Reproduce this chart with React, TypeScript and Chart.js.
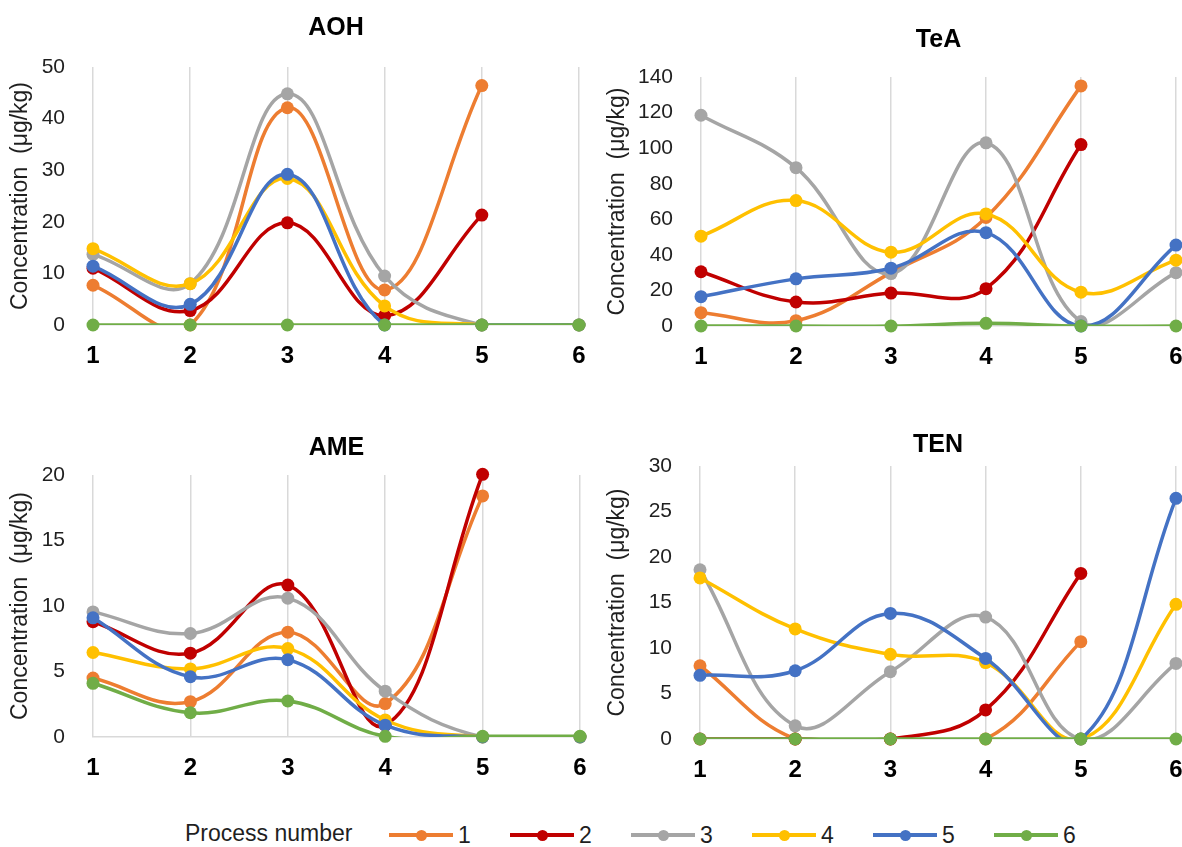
import { useEffect, useRef } from "react";
import { Chart, registerables } from "chart.js";

Chart.register(...registerables);

const FONT = '"Liberation Sans", Arial, Helvetica, sans-serif';

// x categories (step of the process) and series names (process number)
const xLabels = ["1", "2", "3", "4", "5", "6"];
const processes = ["1", "2", "3", "4", "5", "6"];
const colors = ["#ED7D31", "#C00000", "#A5A5A5", "#FFC000", "#4472C4", "#70AD47"];

// AOH (µg/kg), one row per process number
const aohValues: (number | null)[][] = [
  [7.7, 0, 42.1, 6.8, 46.4, null],
  [11.0, 2.8, 19.8, 1.8, 21.3, null],
  [13.7, 8.0, 44.8, 9.5, 0, 0],
  [14.8, 8.0, 28.4, 3.7, 0, 0],
  [11.4, 4.0, 29.2, 0, 0, 0],
  [0, 0, 0, 0, 0, 0],
];

// TeA (µg/kg)
const teaValues: (number | null)[][] = [
  [7.5, 3, 30, 61, 135, null],
  [30.5, 13.5, 18.5, 21, 102, null],
  [118.5, 89, 29.5, 103, 2.5, 30],
  [50.5, 70.5, 41.5, 63, 19, 37],
  [16.5, 26.5, 32.5, 52.5, 0, 45.5],
  [0, 0, 0, 1.5, 0, 0],
];

// AME (µg/kg)
const ameValues: (number | null)[][] = [
  [4.5, 2.7, 8.0, 2.55, 18.4, null],
  [8.8, 6.4, 11.6, 0.9, 20.05, null],
  [9.55, 7.9, 10.6, 3.5, 0, 0],
  [6.45, 5.2, 6.75, 1.3, 0, 0],
  [9.1, 4.6, 5.9, 0.9, 0, 0],
  [4.1, 1.85, 2.75, 0.05, 0.05, 0.05],
];

// TEN (µg/kg)
const tenValues: (number | null)[][] = [
  [8.05, 0, 0, 0, 10.7, null],
  [0, 0, 0, 3.2, 18.2, null],
  [18.6, 1.45, 7.4, 13.4, 0, 8.3],
  [17.7, 12.1, 9.3, 8.4, 0, 14.8],
  [7.0, 7.5, 13.8, 8.85, 0, 26.45],
  [0, 0, 0, 0, 0, 0],
];

const yAxisTitle = "Concentration  (μg/kg)";

interface PanelCfg {
  title: string;
  values: (number | null)[][];
  max: number;
  step: number;
  left: number;
  top: number;
  w: number;
  h: number;
  yw: number;
  tTop: number;
  tBottom: number;
  yTitlePad: number;
}

const panels: PanelCfg[] = [
  { title: "AOH", values: aohValues, max: 50, step: 10, left: 0, top: 0, w: 604, h: 375, yw: 93, tTop: 13, tBottom: 24, yTitlePad: 7 },
  { title: "TeA", values: teaValues, max: 140, step: 20, left: 596, top: 0, w: 605, h: 376, yw: 105, tTop: 25, tBottom: 22, yTitlePad: 8 },
  { title: "AME", values: ameValues, max: 20, step: 5, left: 0, top: 420, w: 605, h: 367, yw: 93, tTop: 13, tBottom: 12, yTitlePad: 7 },
  { title: "TEN", values: tenValues, max: 30, step: 5, left: 596, top: 420, w: 605, h: 369, yw: 104, tTop: 10, tBottom: 6, yTitlePad: 8 },
];

function Panel({ cfg }: { cfg: PanelCfg }) {
  const ref = useRef<HTMLCanvasElement>(null);
  useEffect(() => {
    if (!ref.current) return;
    const datasets: any[] = [];
    cfg.values.forEach((vals, k) => {
      datasets.push({
        label: processes[k],
        data: vals,
        borderColor: colors[k],
        backgroundColor: colors[k],
        borderWidth: 3.5,
        tension: 0.4,
        pointRadius: 0,
        pointHoverRadius: 0,
        spanGaps: false,
        order: 20 - 2 * k,
      });
      datasets.push({
        label: processes[k] + " markers",
        data: vals,
        showLine: false,
        borderColor: colors[k],
        backgroundColor: colors[k],
        pointBackgroundColor: colors[k],
        pointBorderWidth: 0,
        pointRadius: 6.5,
        pointHoverRadius: 6.5,
        clip: false,
        order: 19 - 2 * k,
      });
    });
    const chart = new Chart(ref.current, {
      type: "line",
      data: { labels: xLabels, datasets },
      options: {
        animation: false,
        responsive: false,
        devicePixelRatio: 1,
        events: [],
        layout: { padding: { left: 0, right: 25, top: 0, bottom: 0 } },
        elements: { line: { capBezierPoints: false } },
        plugins: {
          legend: { display: false },
          tooltip: { enabled: false },
          title: {
            display: true,
            text: cfg.title,
            fullSize: false,
            color: "#000",
            font: { family: FONT, size: 25, weight: "bold" },
            padding: { top: cfg.tTop, bottom: cfg.tBottom },
          },
        },
        scales: {
          x: {
            type: "category",
            offset: false,
            grid: { color: "#d9d9d9", lineWidth: 1.5, drawTicks: false },
            border: { display: true, color: "#d9d9d9", width: 1.5 },
            ticks: {
              color: "#000",
              font: { family: FONT, size: 24, weight: "bold" },
              padding: 17,
              maxRotation: 0,
              autoSkip: false,
            },
            afterFit: (s: any) => {
              s.height = 50;
            },
          },
          y: {
            min: 0,
            max: cfg.max,
            grid: { display: false },
            border: { display: false },
            ticks: {
              stepSize: cfg.step,
              color: "#1f1f1f",
              font: { family: FONT, size: 21 },
              padding: 20,
            },
            title: {
              display: true,
              text: yAxisTitle,
              color: "#1f1f1f",
              font: { family: FONT, size: 23 },
              padding: { top: cfg.yTitlePad, bottom: 0 },
            },
            afterFit: (s: any) => {
              s.width = cfg.yw;
            },
          },
        },
      } as any,
    });
    return () => chart.destroy();
  }, [cfg]);
  return (
    <canvas
      ref={ref}
      width={cfg.w}
      height={cfg.h}
      style={{ position: "absolute", left: cfg.left, top: cfg.top, width: cfg.w, height: cfg.h }}
    />
  );
}

export default function App() {
  const legendY = 835;
  return (
    <div
      style={{
        position: "fixed",
        left: 0,
        top: 0,
        width: 1182,
        height: 847,
        overflow: "hidden",
        background: "#fff",
      }}
    >
      {panels.map((p) => (
        <Panel key={p.title} cfg={p} />
      ))}
      <div
        style={{
          position: "absolute",
          left: 185,
          top: legendY - 15,
          height: 30,
          lineHeight: "30px",
          font: `23px ${FONT}`,
          color: "#1f1f1f",
          whiteSpace: "nowrap",
        }}
      >
        Process number
      </div>
      {processes.map((p, i) => (
        <div
          key={p}
          style={{
            position: "absolute",
            left: 389 + 121 * i,
            top: legendY - 15,
            height: 30,
            display: "flex",
            alignItems: "center",
          }}
        >
          <div style={{ position: "relative", width: 64, height: 3.5, background: colors[i] }}>
            <div
              style={{
                position: "absolute",
                left: 26.5,
                top: -3.75,
                width: 11,
                height: 11,
                borderRadius: 5.5,
                background: colors[i],
              }}
            />
          </div>
          <span style={{ marginLeft: 5, font: `23px ${FONT}`, color: "#1f1f1f", lineHeight: "30px" }}>{p}</span>
        </div>
      ))}
    </div>
  );
}
